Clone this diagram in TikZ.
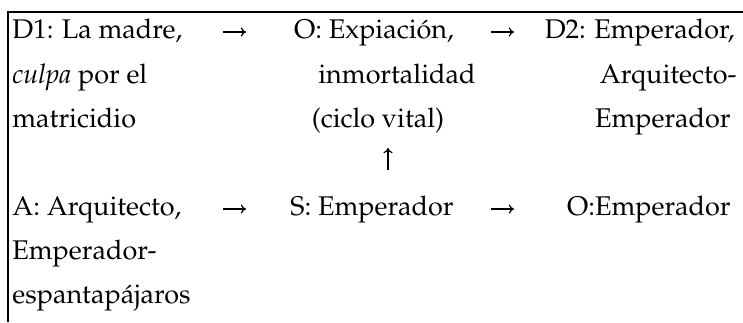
\documentclass[tikz,border=0pt]{standalone}
\usepackage[T1]{fontenc}
\renewcommand{\rmdefault}{ppl}
\usepackage{tikz}
\usetikzlibrary{arrows.meta}

\begin{document}
\begin{tikzpicture}[x=0.5pt,y=-0.5pt,
    lbl/.style={inner sep=0pt, font=\fontsize{13.5}{15}\selectfont},
    frame/.style={line width=0.8pt},
    arr/.style={-{To[length=2.6pt,width=4.6pt]}, line width=0.6pt}]
  \useasboundingbox (0,0) rectangle (743,322);
  \draw[frame] (8,322) -- (8,12) -- (743,12);

  % destinador
  \node[lbl, anchor=base west] (d1a) at (12,38) {D1: La madre,};
  \node[lbl, anchor=base west] (d1b) at (12,83) {\textit{culpa} por el};
  \node[lbl, anchor=base west] (d1c) at (12,127) {matricidio};
  % objeto
  \node[lbl, anchor=base] (obja) at (374,38) {O: Expiación,};
  \node[lbl, anchor=base] (objb) at (397,83) {inmortalidad};
  \node[lbl, anchor=base] (objc) at (378,127) {(ciclo vital)};
  % destinatario
  \node[lbl, anchor=base east] (d2a) at (735,38) {D2: Emperador,};
  \node[lbl, anchor=base east] (d2b) at (737,83) {Arquitecto-};
  \node[lbl, anchor=base east] (d2c) at (731,127) {Emperador};

  % ayudante
  \node[lbl, anchor=base west] (aya) at (12,215) {A: Arquitecto,};
  \node[lbl, anchor=base west] (ayb) at (12,259) {Emperador-};
  \node[lbl, anchor=base west] (ayc) at (12,303) {espantapájaros};
  % sujeto
  \node[lbl, anchor=base] (suj) at (372,215) {S: Emperador};
  % oponente
  \node[lbl, anchor=base east] (opo) at (731,215) {O:Emperador};

  % flechas
  \coordinate (f1s) at (223,32);  \coordinate (f1e) at (246,32);
  \coordinate (f2s) at (491,32);  \coordinate (f2e) at (514,32);
  \coordinate (f3s) at (223,209); \coordinate (f3e) at (246,209);
  \coordinate (f4s) at (491,209); \coordinate (f4e) at (514,209);
  \coordinate (f5s) at (388,170); \coordinate (f5e) at (388,148);
  \draw[arr] (f1s) -- (f1e);
  \draw[arr] (f2s) -- (f2e);
  \draw[arr] (f3s) -- (f3e);
  \draw[arr] (f4s) -- (f4e);
  \draw[arr] (f5s) -- (f5e);
\end{tikzpicture}
\end{document}
